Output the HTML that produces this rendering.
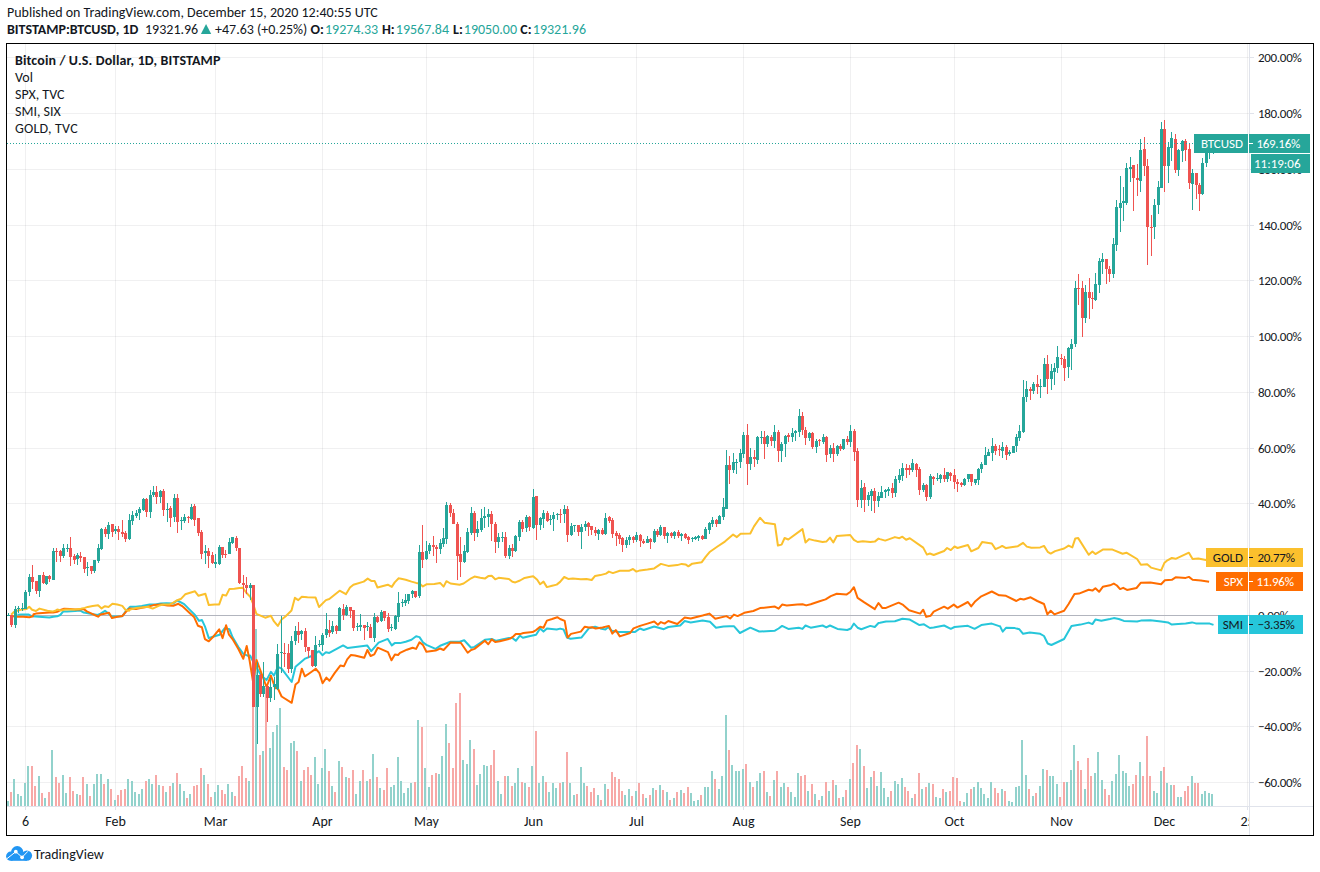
<!DOCTYPE html>
<html><head><meta charset="utf-8"><style>
html,body{margin:0;padding:0;background:#fff;}
body{width:1320px;height:872px;position:relative;overflow:hidden;font-family:"Carlito","Liberation Sans",sans-serif;color:#131722;}
.t{position:absolute;white-space:nowrap;font-size:14px;line-height:17px;}
.b{font-weight:bold;}
.g{color:#26a69a;}
svg{position:absolute;left:0;top:0;}
#frame{position:absolute;left:6px;top:43px;width:1308px;height:793px;box-sizing:border-box;border:1px solid #000;}
.pl{position:absolute;left:1258px;font-size:13px;letter-spacing:-0.3px;line-height:17px;white-space:nowrap;color:#131722;}
.tk{position:absolute;left:1249px;width:5px;height:1px;background:#e0e3eb;}
.tl{position:absolute;top:813px;font-size:14px;line-height:17px;white-space:nowrap;transform:translateX(-50%);}
.tt{position:absolute;top:806px;width:1px;height:4px;background:#e0e3eb;}
#pax{position:absolute;left:1249px;top:44px;width:1px;height:791px;background:#e0e3eb;}
#tax{position:absolute;left:7px;top:806px;width:1306px;height:1px;background:#e0e3eb;}
.lab{position:absolute;font-size:13px;letter-spacing:0;line-height:17px;white-space:nowrap;}
.lab i{position:absolute;left:0;width:4px;height:1px;}
#tclip{position:absolute;left:7px;top:807px;width:1242px;height:28px;overflow:hidden;}
</style></head><body>
<div class="t" style="left:7px;top:4px;">Published on TradingView.com, December 15, 2020 12:40:55 UTC</div>
<div class="t b" style="left:7px;top:21px;">BITSTAMP:BTCUSD, 1D</div>
<div class="t" style="left:145px;top:21px;">19321.96</div>
<svg style="position:absolute;left:200px;top:23px;" width="13" height="12" viewBox="200 23 13 12"><polygon points="200.9,34 206.05,24 211.2,34" fill="#26a69a"/></svg>
<div class="t" style="left:215px;top:21px;">+47.63 (+0.25%)</div>
<div class="t b" style="left:310.5px;top:21px;">O:</div><div class="t g" style="left:325px;top:21px;">19274.33</div>
<div class="t b" style="left:382px;top:21px;">H:</div><div class="t g" style="left:395.8px;top:21px;">19567.84</div>
<div class="t b" style="left:453px;top:21px;">L:</div><div class="t g" style="left:463.8px;top:21px;">19050.00</div>
<div class="t b" style="left:520.3px;top:21px;">C:</div><div class="t g" style="left:532.8px;top:21px;">19321.96</div>
<svg width="1320" height="872" viewBox="0 0 1320 872" shape-rendering="crispEdges">
<line x1="25.5" y1="44" x2="25.5" y2="806" stroke="#2a2e39" stroke-opacity="0.07"/>
<line x1="115.5" y1="44" x2="115.5" y2="806" stroke="#2a2e39" stroke-opacity="0.07"/>
<line x1="215.5" y1="44" x2="215.5" y2="806" stroke="#2a2e39" stroke-opacity="0.07"/>
<line x1="322.5" y1="44" x2="322.5" y2="806" stroke="#2a2e39" stroke-opacity="0.07"/>
<line x1="426.5" y1="44" x2="426.5" y2="806" stroke="#2a2e39" stroke-opacity="0.07"/>
<line x1="533.5" y1="44" x2="533.5" y2="806" stroke="#2a2e39" stroke-opacity="0.07"/>
<line x1="636.5" y1="44" x2="636.5" y2="806" stroke="#2a2e39" stroke-opacity="0.07"/>
<line x1="743.5" y1="44" x2="743.5" y2="806" stroke="#2a2e39" stroke-opacity="0.07"/>
<line x1="850.5" y1="44" x2="850.5" y2="806" stroke="#2a2e39" stroke-opacity="0.07"/>
<line x1="954.5" y1="44" x2="954.5" y2="806" stroke="#2a2e39" stroke-opacity="0.07"/>
<line x1="1061.5" y1="44" x2="1061.5" y2="806" stroke="#2a2e39" stroke-opacity="0.07"/>
<line x1="1164.5" y1="44" x2="1164.5" y2="806" stroke="#2a2e39" stroke-opacity="0.07"/>
<line x1="1247.5" y1="44" x2="1247.5" y2="806" stroke="#2a2e39" stroke-opacity="0.07"/>
<line x1="7" y1="57.5" x2="1249" y2="57.5" stroke="#2a2e39" stroke-opacity="0.07"/>
<line x1="7" y1="113.5" x2="1249" y2="113.5" stroke="#2a2e39" stroke-opacity="0.07"/>
<line x1="7" y1="169.5" x2="1249" y2="169.5" stroke="#2a2e39" stroke-opacity="0.07"/>
<line x1="7" y1="225.5" x2="1249" y2="225.5" stroke="#2a2e39" stroke-opacity="0.07"/>
<line x1="7" y1="280.5" x2="1249" y2="280.5" stroke="#2a2e39" stroke-opacity="0.07"/>
<line x1="7" y1="336.5" x2="1249" y2="336.5" stroke="#2a2e39" stroke-opacity="0.07"/>
<line x1="7" y1="392.5" x2="1249" y2="392.5" stroke="#2a2e39" stroke-opacity="0.07"/>
<line x1="7" y1="448.5" x2="1249" y2="448.5" stroke="#2a2e39" stroke-opacity="0.07"/>
<line x1="7" y1="503.5" x2="1249" y2="503.5" stroke="#2a2e39" stroke-opacity="0.07"/>
<line x1="7" y1="559.5" x2="1249" y2="559.5" stroke="#2a2e39" stroke-opacity="0.07"/>
<line x1="7" y1="615.5" x2="1249" y2="615.5" stroke="#2a2e39" stroke-opacity="0.07"/>
<line x1="7" y1="671.5" x2="1249" y2="671.5" stroke="#2a2e39" stroke-opacity="0.07"/>
<line x1="7" y1="726.5" x2="1249" y2="726.5" stroke="#2a2e39" stroke-opacity="0.07"/>
<line x1="7" y1="782.5" x2="1249" y2="782.5" stroke="#2a2e39" stroke-opacity="0.07"/>
<path fill="#92d2cc" d="M7 801h2V806h-2zM13 779h2V806h-2zM17 794h2V806h-2zM20 796h2V806h-2zM24 783h2V806h-2zM27 766h2V806h-2zM38 776h2V806h-2zM44 798h2V806h-2zM51 750h2V806h-2zM62 775h2V806h-2zM65 793h2V806h-2zM76 794h2V806h-2zM86 784h2V806h-2zM93 784h2V806h-2zM96 774h2V806h-2zM100 774h2V806h-2zM107 779h2V806h-2zM114 800h2V806h-2zM127 779h2V806h-2zM131 781h2V806h-2zM134 792h2V806h-2zM138 794h2V806h-2zM141 789h2V806h-2zM148 779h2V806h-2zM151 784h2V806h-2zM158 785h2V806h-2zM165 792h2V806h-2zM172 783h2V806h-2zM179 784h2V806h-2zM183 791h2V806h-2zM189 794h2V806h-2zM203 775h2V806h-2zM214 792h2V806h-2zM217 785h2V806h-2zM227 784h2V806h-2zM231 792h2V806h-2zM248 781h2V806h-2zM255 629h2V806h-2zM262 751h2V806h-2zM269 748h2V806h-2zM272 732h2V806h-2zM276 725h2V806h-2zM279 708h2V806h-2zM290 743h2V806h-2zM293 741h2V806h-2zM300 781h2V806h-2zM314 757h2V806h-2zM317 784h2V806h-2zM321 768h2V806h-2zM324 749h2V806h-2zM331 786h2V806h-2zM338 761h2V806h-2zM345 777h2V806h-2zM355 794h2V806h-2zM359 781h2V806h-2zM366 781h2V806h-2zM372 754h2V806h-2zM379 788h2V806h-2zM390 787h2V806h-2zM393 785h2V806h-2zM397 757h2V806h-2zM400 781h2V806h-2zM403 793h2V806h-2zM407 788h2V806h-2zM410 783h2V806h-2zM417 720h2V806h-2zM424 768h2V806h-2zM428 787h2V806h-2zM438 774h2V806h-2zM441 756h2V806h-2zM445 724h2V806h-2zM462 760h2V806h-2zM466 764h2V806h-2zM469 740h2V806h-2zM476 785h2V806h-2zM479 774h2V806h-2zM483 765h2V806h-2zM486 766h2V806h-2zM497 781h2V806h-2zM500 794h2V806h-2zM507 776h2V806h-2zM514 783h2V806h-2zM517 768h2V806h-2zM524 783h2V806h-2zM531 766h2V806h-2zM538 783h2V806h-2zM542 776h2V806h-2zM548 792h2V806h-2zM552 783h2V806h-2zM555 788h2V806h-2zM562 782h2V806h-2zM569 783h2V806h-2zM573 795h2V806h-2zM580 767h2V806h-2zM583 783h2V806h-2zM597 795h2V806h-2zM604 784h2V806h-2zM624 795h2V806h-2zM628 789h2V806h-2zM635 791h2V806h-2zM645 798h2V806h-2zM652 788h2V806h-2zM659 785h2V806h-2zM666 792h2V806h-2zM673 798h2V806h-2zM680 790h2V806h-2zM690 793h2V806h-2zM693 801h2V806h-2zM697 800h2V806h-2zM704 787h2V806h-2zM707 787h2V806h-2zM711 771h2V806h-2zM718 789h2V806h-2zM721 776h2V806h-2zM725 715h2V806h-2zM731 765h2V806h-2zM735 771h2V806h-2zM738 771h2V806h-2zM742 769h2V806h-2zM749 782h2V806h-2zM756 781h2V806h-2zM759 773h2V806h-2zM766 792h2V806h-2zM773 780h2V806h-2zM780 787h2V806h-2zM783 783h2V806h-2zM790 792h2V806h-2zM794 797h2V806h-2zM797 773h2V806h-2zM807 791h2V806h-2zM814 794h2V806h-2zM821 796h2V806h-2zM828 791h2V806h-2zM835 785h2V806h-2zM842 797h2V806h-2zM849 779h2V806h-2zM859 749h2V806h-2zM866 788h2V806h-2zM870 777h2V806h-2zM876 786h2V806h-2zM880 772h2V806h-2zM883 788h2V806h-2zM887 797h2V806h-2zM894 781h2V806h-2zM897 784h2V806h-2zM901 778h2V806h-2zM911 798h2V806h-2zM921 789h2V806h-2zM928 783h2V806h-2zM935 797h2V806h-2zM939 798h2V806h-2zM945 792h2V806h-2zM963 802h2V806h-2zM966 793h2V806h-2zM973 787h2V806h-2zM977 782h2V806h-2zM980 788h2V806h-2zM983 794h2V806h-2zM987 798h2V806h-2zM990 782h2V806h-2zM1001 789h2V806h-2zM1008 801h2V806h-2zM1011 802h2V806h-2zM1015 787h2V806h-2zM1018 786h2V806h-2zM1021 740h2V806h-2zM1025 775h2V806h-2zM1032 796h2V806h-2zM1039 786h2V806h-2zM1042 769h2V806h-2zM1049 776h2V806h-2zM1052 776h2V806h-2zM1056 784h2V806h-2zM1066 782h2V806h-2zM1070 770h2V806h-2zM1073 745h2V806h-2zM1084 789h2V806h-2zM1094 773h2V806h-2zM1097 752h2V806h-2zM1101 780h2V806h-2zM1111 781h2V806h-2zM1115 774h2V806h-2zM1118 755h2V806h-2zM1122 771h2V806h-2zM1125 773h2V806h-2zM1128 786h2V806h-2zM1139 762h2V806h-2zM1153 791h2V806h-2zM1156 793h2V806h-2zM1160 771h2V806h-2zM1166 783h2V806h-2zM1170 785h2V806h-2zM1177 797h2V806h-2zM1180 797h2V806h-2zM1191 776h2V806h-2zM1201 794h2V806h-2zM1204 791h2V806h-2zM1208 793h2V806h-2zM1211 794h2V806h-2z"/>
<path fill="#f7a9a7" d="M10 792h2V806h-2zM31 766h2V806h-2zM34 786h2V806h-2zM41 793h2V806h-2zM48 792h2V806h-2zM55 777h2V806h-2zM58 783h2V806h-2zM69 777h2V806h-2zM72 791h2V806h-2zM79 795h2V806h-2zM82 777h2V806h-2zM89 796h2V806h-2zM103 784h2V806h-2zM110 789h2V806h-2zM117 795h2V806h-2zM120 790h2V806h-2zM124 789h2V806h-2zM145 781h2V806h-2zM155 775h2V806h-2zM162 786h2V806h-2zM169 786h2V806h-2zM176 773h2V806h-2zM186 798h2V806h-2zM193 786h2V806h-2zM196 785h2V806h-2zM200 768h2V806h-2zM207 784h2V806h-2zM210 797h2V806h-2zM221 790h2V806h-2zM224 794h2V806h-2zM234 796h2V806h-2zM238 776h2V806h-2zM241 766h2V806h-2zM245 778h2V806h-2zM252 655h2V806h-2zM259 755h2V806h-2zM265 688h2V806h-2zM283 767h2V806h-2zM286 770h2V806h-2zM296 751h2V806h-2zM303 770h2V806h-2zM307 767h2V806h-2zM310 775h2V806h-2zM328 771h2V806h-2zM334 792h2V806h-2zM341 767h2V806h-2zM348 778h2V806h-2zM352 770h2V806h-2zM362 770h2V806h-2zM369 779h2V806h-2zM376 777h2V806h-2zM383 790h2V806h-2zM386 768h2V806h-2zM414 782h2V806h-2zM421 727h2V806h-2zM431 775h2V806h-2zM435 773h2V806h-2zM448 743h2V806h-2zM452 768h2V806h-2zM455 703h2V806h-2zM459 693h2V806h-2zM473 749h2V806h-2zM490 765h2V806h-2zM493 750h2V806h-2zM504 776h2V806h-2zM511 786h2V806h-2zM521 782h2V806h-2zM528 787h2V806h-2zM535 731h2V806h-2zM545 782h2V806h-2zM559 783h2V806h-2zM566 752h2V806h-2zM576 794h2V806h-2zM586 786h2V806h-2zM590 792h2V806h-2zM593 788h2V806h-2zM600 800h2V806h-2zM607 789h2V806h-2zM611 772h2V806h-2zM614 777h2V806h-2zM618 779h2V806h-2zM621 791h2V806h-2zM631 796h2V806h-2zM638 783h2V806h-2zM642 794h2V806h-2zM649 795h2V806h-2zM655 790h2V806h-2zM662 790h2V806h-2zM669 800h2V806h-2zM676 792h2V806h-2zM683 793h2V806h-2zM687 787h2V806h-2zM700 795h2V806h-2zM714 779h2V806h-2zM728 750h2V806h-2zM745 764h2V806h-2zM752 787h2V806h-2zM763 771h2V806h-2zM769 796h2V806h-2zM776 771h2V806h-2zM787 787h2V806h-2zM800 776h2V806h-2zM804 775h2V806h-2zM811 784h2V806h-2zM818 800h2V806h-2zM825 782h2V806h-2zM832 780h2V806h-2zM838 798h2V806h-2zM845 790h2V806h-2zM852 763h2V806h-2zM856 745h2V806h-2zM863 766h2V806h-2zM873 771h2V806h-2zM890 791h2V806h-2zM904 787h2V806h-2zM907 791h2V806h-2zM914 794h2V806h-2zM918 773h2V806h-2zM925 787h2V806h-2zM932 784h2V806h-2zM942 789h2V806h-2zM949 791h2V806h-2zM952 777h2V806h-2zM956 778h2V806h-2zM959 801h2V806h-2zM970 789h2V806h-2zM994 788h2V806h-2zM997 793h2V806h-2zM1004 791h2V806h-2zM1028 789h2V806h-2zM1035 793h2V806h-2zM1046 770h2V806h-2zM1059 797h2V806h-2zM1063 782h2V806h-2zM1077 761h2V806h-2zM1080 770h2V806h-2zM1087 758h2V806h-2zM1090 776h2V806h-2zM1104 789h2V806h-2zM1108 795h2V806h-2zM1132 784h2V806h-2zM1135 775h2V806h-2zM1142 776h2V806h-2zM1146 736h2V806h-2zM1149 776h2V806h-2zM1163 767h2V806h-2zM1173 785h2V806h-2zM1184 791h2V806h-2zM1187 786h2V806h-2zM1194 783h2V806h-2zM1197 783h2V806h-2z"/>
<line x1="7" y1="615.5" x2="1249" y2="615.5" stroke="#b2b5be"/>
<path d="M17.4 614.7 L21.8 614.6 L28.4 614.4 L32.1 616.3 L49.3 617.5 L53.3 616.7 L57.2 616.3 L60.2 615.0 L63.1 611.6 L67.1 611.4 L75.0 611.1 L79.9 610.4 L83.8 612.6 L86.8 613.1 L91.7 614.1 L97.6 615.0 L100.6 613.6 L105.0 610.8 L108.5 613.6 L111.4 616.3 L116.3 616.5 L122.3 616.3 L126.2 610.6 L129.2 607.7 L130.0 606.8 L135.9 606.8 L141.8 606.1 L149.7 604.6 L155.6 604.6 L160.5 603.6 L166.5 603.2 L173.3 603.4 L177.3 600.5 L184.2 604.1 L189.1 609.1 L195.0 615.0 L199.0 620.9 L201.9 619.9 L204.9 626.3 L208.8 638.1 L212.8 636.7 L219.7 634.7 L224.6 628.3 L229.5 629.3 L232.5 637.1 L238.4 647.0 L243.3 653.9 L248.2 655.9 L250.1 655.5 L252.6 660.5 L257.7 669.4 L261.4 675.7 L266.5 680.1 L270.9 671.9 L274.0 675.7 L277.8 666.8 L281.6 668.7 L291.7 682.0 L295.5 666.8 L305.2 658.6 L311.0 656.3 L319.0 651.2 L322.4 655.2 L325.9 652.3 L329.3 652.9 L343.1 645.4 L347.7 648.1 L367.2 645.4 L371.2 651.2 L378.6 642.6 L387.8 638.9 L391.8 645.4 L394.7 643.1 L400.0 643.1 L405.7 641.7 L411.5 639.7 L416.1 636.3 L419.5 637.1 L422.9 642.3 L426.4 644.9 L435.6 648.9 L440.1 645.8 L450.5 641.7 L459.6 641.7 L464.2 640.3 L471.1 647.7 L474.5 646.9 L484.9 639.7 L491.7 638.9 L496.3 640.8 L508.9 638.0 L512.4 638.0 L515.8 640.8 L519.3 636.3 L520.0 635.8 L522.9 637.8 L529.2 636.2 L536.1 634.7 L540.1 628.4 L543.5 631.6 L546.9 628.4 L556.7 629.5 L560.1 628.6 L563.6 629.5 L567.0 637.6 L570.5 638.7 L581.4 637.6 L588.8 628.4 L595.1 626.7 L600.3 628.4 L605.4 629.5 L608.3 627.0 L611.7 630.7 L618.6 632.1 L630.1 632.1 L634.7 632.1 L640.0 628.5 L643.7 630.0 L654.2 626.5 L663.8 629.2 L668.3 627.0 L680.2 625.5 L684.7 621.0 L690.7 622.5 L702.6 620.6 L710.0 621.8 L716.0 627.7 L723.5 626.5 L729.4 626.2 L733.9 626.2 L739.9 633.0 L750.3 627.7 L759.2 631.5 L760.0 631.5 L774.9 630.7 L778.6 628.5 L782.1 625.9 L788.3 628.9 L798.7 627.7 L802.5 628.9 L805.5 625.5 L810.7 627.7 L822.6 625.5 L826.3 627.4 L830.0 625.5 L837.5 628.9 L847.2 630.0 L850.9 628.5 L853.9 623.6 L857.6 627.7 L861.3 629.2 L870.3 625.9 L874.8 627.0 L878.5 623.0 L880.0 622.8 L886.0 621.6 L894.9 621.3 L902.4 618.7 L909.8 619.6 L919.5 625.1 L924.0 624.3 L929.9 628.0 L933.7 627.6 L944.1 625.5 L950.8 628.8 L954.5 627.0 L967.9 625.8 L974.6 628.8 L981.3 625.1 L991.8 623.6 L999.2 626.1 L1000.0 626.3 L1002.7 631.6 L1006.0 627.8 L1014.9 628.1 L1019.4 629.3 L1023.1 633.8 L1029.8 632.6 L1040.2 633.8 L1044.0 636.0 L1047.7 643.5 L1051.4 645.0 L1064.1 639.0 L1071.5 626.0 L1080.5 624.6 L1088.7 622.6 L1092.4 624.1 L1095.4 619.6 L1101.3 620.7 L1110.0 619.0 L1113.8 618.1 L1118.8 619.0 L1123.9 620.9 L1137.1 621.5 L1140.9 620.6 L1150.4 620.2 L1161.1 621.5 L1168.0 622.4 L1171.8 624.6 L1178.1 624.0 L1185.7 623.6 L1192.0 622.4 L1195.8 623.4 L1209.7 623.6 L1213.5 624.9" fill="none" stroke="#26c6da" stroke-width="2" stroke-linejoin="round" shape-rendering="auto"/>
<path d="M11.2 616.1 L12.9 616.3 L17.4 616.8 L23.2 616.7 L29.4 617.2 L32.8 616.3 L33.5 614.3 L35.9 613.6 L49.3 612.4 L53.3 612.6 L57.2 611.8 L61.2 609.6 L64.1 608.8 L70.0 609.1 L75.0 609.4 L79.9 609.6 L83.8 609.1 L86.8 611.4 L91.7 613.6 L95.7 615.5 L98.1 616.7 L100.6 614.6 L104.5 613.8 L109.0 612.8 L111.9 618.0 L116.3 617.0 L122.3 616.0 L125.7 612.1 L129.2 608.6 L130.0 608.6 L135.9 609.1 L141.8 607.8 L147.7 606.8 L153.6 605.1 L161.5 604.6 L167.4 605.4 L173.3 605.8 L178.3 603.8 L182.2 606.1 L189.1 612.5 L194.0 616.9 L198.0 625.8 L201.9 627.3 L204.9 639.1 L208.8 641.3 L213.7 636.2 L219.2 629.3 L222.6 638.1 L226.1 625.3 L229.0 634.7 L232.5 639.1 L238.4 649.0 L243.3 658.8 L246.7 646.0 L249.6 660.5 L253.1 682.0 L256.6 660.0 L266.5 687.0 L270.9 675.7 L275.3 688.3 L277.8 688.3 L281.6 696.5 L291.7 702.8 L295.5 684.5 L298.6 682.0 L301.8 668.7 L304.9 676.3 L310.6 672.5 L315.7 668.7 L319.4 673.1 L322.6 683.2 L326.4 677.6 L329.5 680.7 L334.6 673.1 L340.3 665.6 L344.0 666.2 L347.2 659.3 L351.0 654.9 L355.0 655.5 L364.2 657.8 L367.4 650.0 L370.6 656.0 L374.3 654.4 L377.7 647.7 L388.0 652.1 L391.5 660.3 L394.9 654.4 L398.1 655.0 L400.0 652.9 L406.9 649.7 L412.6 647.7 L416.1 648.9 L419.5 642.3 L422.9 644.9 L426.4 651.7 L435.6 650.6 L440.1 648.5 L443.6 650.0 L450.5 642.6 L460.8 642.8 L467.7 652.7 L471.1 650.0 L474.5 648.9 L484.9 640.8 L488.3 644.3 L491.7 639.4 L495.2 642.0 L499.8 641.2 L510.1 638.6 L513.5 636.3 L515.8 634.0 L520.0 634.1 L523.4 633.0 L532.6 632.1 L536.1 630.1 L540.1 626.7 L543.5 627.8 L546.9 620.6 L552.1 619.0 L557.3 617.2 L560.1 619.0 L564.7 620.9 L567.6 637.6 L571.0 633.9 L580.8 631.6 L584.8 626.7 L588.8 627.5 L592.2 627.2 L595.7 628.6 L602.6 627.5 L608.9 625.9 L612.3 633.6 L615.8 630.1 L619.8 636.4 L630.1 633.0 L633.5 628.4 L640.0 625.9 L647.5 623.6 L654.2 621.5 L657.9 624.8 L660.9 622.1 L664.6 623.6 L668.3 621.0 L677.3 624.0 L684.7 617.6 L690.7 618.5 L702.6 615.5 L709.3 613.6 L715.3 618.8 L726.4 616.1 L730.2 618.5 L733.9 614.6 L737.6 616.1 L744.3 612.8 L753.3 611.0 L760.0 608.1 L774.9 606.6 L778.6 608.7 L782.1 604.6 L786.8 605.4 L797.3 604.6 L802.5 604.2 L806.2 605.4 L810.7 604.2 L819.6 601.2 L825.6 599.4 L830.8 596.1 L836.8 593.8 L846.4 594.6 L850.2 592.0 L853.9 587.2 L857.6 597.9 L864.3 602.4 L874.8 609.1 L878.5 603.1 L880.0 604.9 L882.2 607.9 L886.0 607.9 L898.6 602.7 L903.1 604.9 L909.1 610.2 L920.2 613.6 L923.2 609.7 L926.2 616.9 L930.7 615.7 L933.7 611.7 L944.1 606.7 L947.8 608.7 L953.8 604.6 L957.5 607.6 L967.9 602.0 L971.2 606.4 L975.4 601.2 L981.3 596.3 L991.8 591.5 L999.2 595.3 L1000.0 595.3 L1006.0 595.8 L1016.4 601.0 L1020.1 598.8 L1023.8 599.5 L1030.6 597.3 L1037.3 601.0 L1044.0 604.0 L1047.4 614.4 L1050.7 610.7 L1054.4 614.4 L1064.1 610.7 L1068.6 604.0 L1074.5 593.9 L1079.0 593.6 L1088.7 589.8 L1092.4 590.6 L1095.4 588.3 L1099.1 591.8 L1102.8 586.8 L1110.0 585.3 L1113.8 583.6 L1116.9 585.5 L1120.1 589.1 L1123.2 587.8 L1127.0 589.9 L1136.5 588.0 L1140.9 582.7 L1150.4 582.4 L1161.1 584.3 L1164.9 580.2 L1171.8 579.8 L1175.6 577.3 L1185.7 577.9 L1188.9 576.9 L1192.6 579.8 L1200.9 580.5 L1209.1 581.7" fill="none" stroke="#ff6d00" stroke-width="2" stroke-linejoin="round" shape-rendering="auto"/>
<path d="M11.2 614.8 L13.9 611.9 L18.0 610.5 L22.5 609.4 L26.6 608.9 L29.2 606.7 L32.1 609.8 L35.9 611.0 L39.5 608.6 L47.4 610.8 L52.3 611.6 L55.3 610.8 L57.2 609.6 L61.2 610.4 L65.1 609.6 L70.0 609.4 L75.0 609.6 L80.9 608.8 L84.8 607.9 L87.8 606.9 L92.7 605.9 L98.1 605.2 L101.6 608.4 L105.0 606.2 L108.5 606.9 L112.4 603.7 L117.3 604.5 L122.3 605.9 L125.7 610.1 L129.2 610.8 L130.0 609.6 L135.9 608.1 L141.8 607.4 L147.7 606.8 L152.7 608.6 L158.6 605.8 L163.5 604.4 L169.4 604.6 L173.3 602.7 L177.3 600.2 L181.2 598.7 L185.2 594.3 L190.1 592.8 L195.0 591.3 L198.5 595.8 L205.4 593.8 L208.8 605.1 L214.7 604.6 L219.2 604.4 L222.6 594.8 L226.1 595.6 L229.5 588.9 L234.4 588.7 L239.4 587.9 L242.8 587.7 L246.3 592.8 L250.2 596.7 L252.6 602.5 L256.4 613.9 L265.2 617.7 L270.9 615.8 L274.0 621.4 L277.8 625.9 L281.6 619.5 L285.7 616.2 L291.5 610.5 L294.9 597.8 L298.3 600.1 L301.8 596.7 L307.5 597.3 L315.6 597.6 L319.0 607.0 L325.9 600.1 L329.3 599.0 L339.6 590.7 L345.9 594.2 L350.0 587.5 L353.4 584.7 L363.7 581.6 L367.7 578.6 L371.2 580.9 L374.6 580.9 L377.5 587.5 L387.8 584.7 L391.8 586.9 L394.7 582.4 L398.7 578.3 L400.0 578.6 L405.7 579.7 L411.5 581.6 L416.1 582.9 L419.5 583.5 L422.9 586.4 L426.4 584.3 L434.4 583.9 L440.1 582.9 L443.6 586.6 L446.4 581.2 L450.5 583.5 L459.6 584.7 L463.6 583.5 L471.1 578.3 L474.5 576.6 L480.3 577.8 L484.9 578.6 L488.3 576.1 L491.7 575.8 L495.2 579.3 L498.6 577.8 L508.9 578.9 L512.4 581.8 L515.3 582.4 L520.0 580.5 L524.6 577.9 L529.2 577.0 L533.2 576.2 L537.2 579.7 L540.1 584.2 L543.5 581.6 L546.9 587.1 L552.1 585.7 L556.7 584.6 L560.1 581.9 L564.2 577.0 L568.2 578.9 L572.8 578.5 L580.8 579.3 L586.5 579.1 L591.7 580.0 L595.1 575.9 L600.3 575.1 L606.0 573.6 L608.9 571.6 L612.9 573.1 L619.8 570.8 L628.9 570.8 L633.0 569.0 L636.4 571.6 L640.0 570.4 L647.5 569.6 L654.2 568.4 L660.9 563.9 L668.3 565.9 L677.3 565.1 L681.7 563.9 L685.5 564.4 L688.4 566.3 L692.2 563.7 L701.8 562.2 L705.6 556.9 L710.0 551.7 L717.5 546.5 L724.9 541.6 L733.1 534.6 L736.9 537.1 L740.6 533.8 L750.3 533.5 L754.0 526.4 L760.0 517.7 L764.5 522.7 L774.9 524.2 L777.9 545.5 L781.6 544.6 L784.6 538.0 L788.3 539.5 L802.5 529.1 L805.5 542.5 L809.2 539.1 L815.1 540.6 L822.6 542.0 L826.3 541.6 L830.0 537.6 L833.3 542.5 L836.8 536.1 L843.5 535.6 L850.2 535.0 L853.9 539.8 L857.6 542.0 L862.8 541.3 L870.3 542.0 L874.8 541.6 L878.5 538.6 L880.0 539.1 L885.2 540.6 L894.9 537.1 L899.4 538.2 L902.4 536.7 L906.1 539.7 L909.8 538.2 L923.2 547.6 L926.9 554.6 L929.9 553.5 L933.7 555.0 L944.1 551.0 L947.1 548.0 L950.8 550.1 L954.5 546.5 L957.5 548.0 L967.9 545.0 L971.2 551.3 L978.4 548.0 L982.1 542.1 L991.8 543.5 L995.5 549.1 L1000.0 547.1 L1002.2 545.9 L1006.0 548.1 L1017.9 546.2 L1023.1 542.9 L1026.8 546.6 L1031.3 547.7 L1040.2 547.4 L1044.0 545.9 L1047.7 551.8 L1050.7 553.6 L1055.1 551.1 L1064.1 548.5 L1068.6 545.6 L1072.3 547.4 L1075.3 538.4 L1078.2 538.1 L1088.7 554.8 L1092.4 551.5 L1095.4 554.1 L1102.8 549.6 L1110.0 549.6 L1112.5 549.6 L1122.6 553.7 L1126.4 552.7 L1137.1 559.0 L1140.9 564.7 L1147.2 564.3 L1151.0 567.6 L1161.1 570.4 L1164.3 563.1 L1167.4 560.3 L1171.8 558.0 L1175.6 558.8 L1188.9 552.7 L1192.6 559.0 L1198.3 558.4 L1205.9 560.0 L1212.2 557.1" fill="none" stroke="#fbc02d" stroke-width="2" stroke-linejoin="round" shape-rendering="auto"/>
<path fill="#26a69a" d="M7 615h3V616h-3zM8 613h1V615h-1zM14 609h3V625h-3zM15 606h1V609h-1zM15 625h1V628h-1zM17 608h3V609h-3zM18 606h1V608h-1zM18 609h1V613h-1zM21 608h3V609h-3zM22 603h1V608h-1zM22 609h1V611h-1zM24 592h3V609h-3zM25 590h1V592h-1zM28 577h3V592h-3zM29 574h1V577h-1zM29 592h1V596h-1zM38 575h3V591h-3zM39 591h1V597h-1zM45 576h3V584h-3zM46 584h1V585h-1zM52 551h3V580h-3zM53 548h1V551h-1zM62 548h3V556h-3zM63 544h1V548h-1zM63 556h1V558h-1zM66 548h3V549h-3zM67 544h1V548h-1zM67 549h1V552h-1zM76 555h3V559h-3zM77 553h1V555h-1zM77 559h1V565h-1zM86 567h3V568h-3zM87 562h1V567h-1zM87 568h1V576h-1zM93 560h3V571h-3zM94 571h1V573h-1zM97 548h3V561h-3zM98 544h1V548h-1zM98 561h1V563h-1zM100 529h3V549h-3zM101 528h1V529h-1zM101 549h1V550h-1zM107 525h3V534h-3zM108 522h1V525h-1zM108 534h1V539h-1zM114 529h3V531h-3zM115 526h1V529h-1zM115 531h1V534h-1zM128 520h3V539h-3zM129 514h1V520h-1zM129 539h1V540h-1zM131 515h3V521h-3zM132 511h1V515h-1zM132 521h1V525h-1zM135 513h3V516h-3zM136 510h1V513h-1zM136 516h1V518h-1zM138 509h3V513h-3zM139 507h1V509h-1zM139 513h1V520h-1zM142 499h3V510h-3zM143 498h1V499h-1zM143 510h1V511h-1zM149 495h3V512h-3zM150 490h1V495h-1zM150 512h1V518h-1zM152 492h3V495h-3zM153 486h1V492h-1zM153 495h1V497h-1zM159 491h3V497h-3zM160 490h1V491h-1zM160 497h1V503h-1zM166 509h3V510h-3zM167 503h1V509h-1zM167 510h1V522h-1zM173 498h3V517h-3zM174 494h1V498h-1zM174 517h1V522h-1zM180 520h3V521h-3zM181 517h1V520h-1zM181 521h1V530h-1zM183 517h3V521h-3zM184 514h1V517h-1zM184 521h1V523h-1zM190 507h3V519h-3zM191 504h1V507h-1zM191 519h1V520h-1zM204 551h3V553h-3zM205 545h1V551h-1zM205 553h1V564h-1zM214 562h3V564h-3zM215 554h1V562h-1zM215 564h1V568h-1zM218 547h3V564h-3zM219 545h1V547h-1zM219 564h1V565h-1zM228 542h3V554h-3zM229 538h1V542h-1zM231 537h3V543h-3zM232 543h1V544h-1zM249 585h3V588h-3zM250 583h1V585h-1zM250 588h1V600h-1zM256 675h3V707h-3zM257 662h1V675h-1zM257 707h1V744h-1zM262 686h3V694h-3zM263 662h1V686h-1zM263 694h1V697h-1zM269 687h3V698h-3zM270 678h1V687h-1zM270 698h1V702h-1zM273 684h3V687h-3zM274 677h1V684h-1zM274 687h1V700h-1zM276 654h3V689h-3zM277 644h1V654h-1zM277 689h1V690h-1zM280 652h3V653h-3zM281 616h1V652h-1zM281 653h1V673h-1zM290 641h3V669h-3zM291 636h1V641h-1zM291 669h1V673h-1zM294 631h3V641h-3zM295 626h1V631h-1zM295 641h1V645h-1zM300 631h3V634h-3zM301 630h1V631h-1zM301 634h1V640h-1zM314 645h3V666h-3zM315 636h1V645h-1zM315 666h1V667h-1zM318 644h3V645h-3zM319 640h1V644h-1zM319 645h1V647h-1zM321 635h3V645h-3zM322 633h1V635h-1zM322 645h1V651h-1zM325 629h3V635h-3zM326 613h1V629h-1zM326 635h1V638h-1zM331 626h3V632h-3zM332 621h1V626h-1zM332 632h1V634h-1zM338 608h3V631h-3zM339 607h1V608h-1zM345 607h3V615h-3zM346 605h1V607h-1zM346 615h1V616h-1zM356 626h3V627h-3zM357 623h1V626h-1zM357 627h1V631h-1zM359 625h3V627h-3zM360 614h1V625h-1zM360 627h1V631h-1zM366 626h3V627h-3zM367 622h1V626h-1zM367 627h1V631h-1zM373 617h3V638h-3zM374 613h1V617h-1zM374 638h1V642h-1zM380 612h3V621h-3zM381 610h1V612h-1zM381 621h1V622h-1zM390 627h3V628h-3zM391 624h1V627h-1zM391 628h1V631h-1zM394 616h3V629h-3zM395 615h1V616h-1zM395 629h1V630h-1zM397 603h3V617h-3zM398 592h1V603h-1zM398 617h1V622h-1zM401 602h3V603h-3zM402 599h1V602h-1zM402 603h1V607h-1zM404 600h3V603h-3zM405 594h1V600h-1zM405 603h1V606h-1zM407 594h3V601h-3zM408 601h1V604h-1zM411 591h3V594h-3zM412 590h1V591h-1zM412 594h1V598h-1zM418 552h3V596h-3zM419 545h1V552h-1zM419 596h1V598h-1zM425 551h3V559h-3zM426 541h1V551h-1zM426 559h1V560h-1zM428 545h3V551h-3zM429 543h1V545h-1zM429 551h1V554h-1zM439 543h3V549h-3zM440 539h1V543h-1zM440 549h1V554h-1zM442 538h3V544h-3zM443 528h1V538h-1zM443 544h1V547h-1zM445 505h3V539h-3zM446 502h1V505h-1zM446 539h1V544h-1zM463 551h3V562h-3zM464 545h1V551h-1zM464 562h1V563h-1zM466 532h3V552h-3zM467 528h1V532h-1zM467 552h1V553h-1zM470 513h3V533h-3zM471 507h1V513h-1zM471 533h1V535h-1zM476 529h3V533h-3zM477 521h1V529h-1zM477 533h1V537h-1zM480 518h3V530h-3zM481 509h1V518h-1zM481 530h1V532h-1zM483 516h3V518h-3zM484 507h1V516h-1zM484 518h1V528h-1zM487 514h3V517h-3zM488 509h1V514h-1zM488 517h1V527h-1zM497 537h3V542h-3zM498 533h1V537h-1zM498 542h1V548h-1zM501 537h3V538h-3zM502 532h1V537h-1zM502 538h1V542h-1zM508 548h3V556h-3zM509 545h1V548h-1zM509 556h1V559h-1zM514 536h3V551h-3zM515 535h1V536h-1zM515 551h1V552h-1zM518 522h3V537h-3zM519 520h1V522h-1zM519 537h1V541h-1zM525 517h3V528h-3zM526 515h1V517h-1zM526 528h1V532h-1zM532 497h3V528h-3zM533 489h1V497h-1zM533 528h1V529h-1zM539 518h3V525h-3zM540 517h1V518h-1zM540 525h1V530h-1zM542 513h3V519h-3zM543 510h1V513h-1zM543 519h1V528h-1zM549 519h3V520h-3zM550 515h1V519h-1zM550 520h1V525h-1zM552 515h3V519h-3zM553 512h1V515h-1zM553 519h1V531h-1zM556 514h3V515h-3zM557 513h1V514h-1zM557 515h1V520h-1zM563 509h3V514h-3zM564 505h1V509h-1zM564 514h1V523h-1zM570 526h3V535h-3zM571 523h1V526h-1zM571 535h1V536h-1zM573 525h3V526h-3zM574 526h1V532h-1zM580 527h3V532h-3zM581 524h1V527h-1zM581 532h1V549h-1zM584 524h3V527h-3zM585 521h1V524h-1zM585 527h1V531h-1zM597 530h3V534h-3zM598 529h1V530h-1zM598 534h1V540h-1zM604 518h3V534h-3zM605 513h1V518h-1zM605 534h1V535h-1zM625 540h3V545h-3zM626 537h1V540h-1zM626 545h1V548h-1zM628 537h3V540h-3zM629 535h1V537h-1zM629 540h1V545h-1zM635 535h3V540h-3zM636 532h1V535h-1zM636 540h1V542h-1zM646 539h3V543h-3zM647 536h1V539h-1zM653 531h3V542h-3zM654 529h1V531h-1zM654 542h1V543h-1zM659 527h3V535h-3zM660 525h1V527h-1zM660 535h1V536h-1zM666 533h3V536h-3zM667 532h1V533h-1zM667 536h1V543h-1zM673 532h3V536h-3zM674 531h1V532h-1zM674 536h1V539h-1zM680 534h3V536h-3zM681 533h1V534h-1zM681 536h1V541h-1zM691 538h3V539h-3zM692 537h1V538h-1zM692 539h1V542h-1zM694 537h3V539h-3zM695 536h1V537h-1zM695 539h1V540h-1zM697 536h3V538h-3zM698 535h1V536h-1zM698 538h1V541h-1zM704 529h3V539h-3zM705 527h1V529h-1zM708 523h3V530h-3zM709 522h1V523h-1zM709 530h1V534h-1zM711 520h3V524h-3zM712 517h1V520h-1zM712 524h1V527h-1zM718 516h3V524h-3zM719 515h1V516h-1zM722 507h3V517h-3zM723 498h1V507h-1zM723 517h1V520h-1zM725 465h3V509h-3zM726 450h1V465h-1zM732 462h3V470h-3zM733 453h1V462h-1zM733 470h1V473h-1zM735 462h3V463h-3zM736 459h1V462h-1zM736 463h1V474h-1zM739 453h3V462h-3zM740 449h1V453h-1zM740 462h1V468h-1zM742 435h3V454h-3zM743 432h1V435h-1zM743 454h1V458h-1zM749 457h3V464h-3zM750 448h1V457h-1zM750 464h1V470h-1zM756 437h3V460h-3zM757 436h1V437h-1zM757 460h1V464h-1zM760 437h3V438h-3zM761 431h1V437h-1zM761 438h1V444h-1zM766 436h3V444h-3zM767 435h1V436h-1zM767 444h1V447h-1zM773 432h3V441h-3zM774 425h1V432h-1zM774 441h1V448h-1zM780 444h3V451h-3zM781 442h1V444h-1zM781 451h1V462h-1zM784 436h3V444h-3zM785 435h1V436h-1zM785 444h1V457h-1zM791 433h3V437h-3zM792 428h1V433h-1zM792 437h1V442h-1zM794 431h3V433h-3zM795 430h1V431h-1zM795 433h1V441h-1zM798 416h3V432h-3zM799 409h1V416h-1zM799 432h1V437h-1zM808 433h3V438h-3zM809 432h1V433h-1zM809 438h1V441h-1zM815 441h3V447h-3zM816 439h1V441h-1zM816 447h1V453h-1zM822 437h3V442h-3zM823 434h1V437h-1zM823 442h1V444h-1zM829 448h3V454h-3zM830 445h1V448h-1zM830 454h1V458h-1zM836 446h3V454h-3zM837 445h1V446h-1zM837 454h1V456h-1zM842 439h3V449h-3zM843 449h1V450h-1zM849 431h3V442h-3zM850 425h1V431h-1zM850 442h1V447h-1zM860 488h3V500h-3zM861 480h1V488h-1zM861 500h1V508h-1zM867 495h3V500h-3zM868 492h1V495h-1zM868 500h1V506h-1zM870 491h3V496h-3zM871 489h1V491h-1zM871 496h1V511h-1zM877 496h3V501h-3zM878 492h1V496h-1zM878 501h1V507h-1zM880 492h3V498h-3zM881 486h1V492h-1zM884 490h3V492h-3zM885 489h1V490h-1zM885 492h1V498h-1zM887 489h3V491h-3zM888 487h1V489h-1zM888 491h1V496h-1zM894 479h3V493h-3zM895 476h1V479h-1zM895 493h1V497h-1zM898 475h3V480h-3zM899 469h1V475h-1zM899 480h1V483h-1zM901 468h3V476h-3zM902 463h1V468h-1zM902 476h1V481h-1zM911 463h3V470h-3zM912 459h1V463h-1zM912 470h1V472h-1zM922 485h3V490h-3zM923 483h1V485h-1zM923 490h1V492h-1zM929 476h3V497h-3zM930 474h1V476h-1zM930 497h1V499h-1zM936 478h3V479h-3zM937 473h1V478h-1zM937 479h1V481h-1zM939 475h3V479h-3zM940 474h1V475h-1zM940 479h1V483h-1zM946 472h3V479h-3zM947 479h1V482h-1zM963 479h3V485h-3zM964 478h1V479h-1zM964 485h1V486h-1zM967 474h3V479h-3zM968 479h1V482h-1zM974 479h3V483h-3zM975 483h1V485h-1zM977 469h3V480h-3zM978 468h1V469h-1zM978 480h1V485h-1zM980 464h3V469h-3zM981 462h1V464h-1zM981 469h1V473h-1zM984 455h3V465h-3zM985 447h1V455h-1zM987 452h3V456h-3zM988 449h1V452h-1zM991 446h3V453h-3zM992 438h1V446h-1zM992 453h1V461h-1zM1001 447h3V451h-3zM1002 442h1V447h-1zM1002 451h1V458h-1zM1008 452h3V454h-3zM1009 450h1V452h-1zM1009 454h1V456h-1zM1012 446h3V453h-3zM1015 437h3V446h-3zM1016 434h1V437h-1zM1016 446h1V452h-1zM1018 431h3V438h-3zM1019 425h1V431h-1zM1019 438h1V441h-1zM1022 397h3V432h-3zM1023 380h1V397h-1zM1023 432h1V433h-1zM1025 389h3V397h-3zM1026 381h1V389h-1zM1026 397h1V402h-1zM1032 384h3V391h-3zM1033 382h1V384h-1zM1033 391h1V394h-1zM1039 386h3V387h-3zM1040 379h1V386h-1zM1040 387h1V398h-1zM1043 364h3V387h-3zM1044 358h1V364h-1zM1050 371h3V379h-3zM1051 364h1V371h-1zM1051 379h1V390h-1zM1053 368h3V372h-3zM1054 363h1V368h-1zM1054 372h1V385h-1zM1056 357h3V368h-3zM1057 346h1V357h-1zM1057 368h1V373h-1zM1067 348h3V367h-3zM1068 347h1V348h-1zM1068 367h1V378h-1zM1070 344h3V349h-3zM1071 339h1V344h-1zM1071 349h1V370h-1zM1074 288h3V344h-3zM1075 281h1V288h-1zM1075 344h1V347h-1zM1084 292h3V318h-3zM1085 285h1V292h-1zM1085 318h1V323h-1zM1094 284h3V300h-3zM1095 273h1V284h-1zM1095 300h1V301h-1zM1098 261h3V285h-3zM1099 258h1V261h-1zM1099 285h1V293h-1zM1101 259h3V262h-3zM1102 253h1V259h-1zM1102 262h1V274h-1zM1112 244h3V274h-3zM1113 238h1V244h-1zM1113 274h1V278h-1zM1115 207h3V245h-3zM1116 200h1V207h-1zM1116 245h1V251h-1zM1119 203h3V208h-3zM1120 176h1V203h-1zM1120 208h1V232h-1zM1122 201h3V203h-3zM1123 187h1V201h-1zM1123 203h1V221h-1zM1125 168h3V203h-3zM1126 163h1V168h-1zM1126 203h1V205h-1zM1129 167h3V169h-3zM1130 157h1V167h-1zM1130 169h1V182h-1zM1139 150h3V181h-3zM1140 139h1V150h-1zM1140 181h1V192h-1zM1153 205h3V227h-3zM1154 199h1V205h-1zM1154 227h1V239h-1zM1157 187h3V205h-3zM1158 181h1V187h-1zM1158 205h1V214h-1zM1160 129h3V188h-3zM1161 122h1V129h-1zM1167 147h3V166h-3zM1168 142h1V147h-1zM1168 166h1V183h-1zM1170 138h3V148h-3zM1171 132h1V138h-1zM1171 148h1V161h-1zM1177 150h3V170h-3zM1178 149h1V150h-1zM1178 170h1V176h-1zM1181 141h3V151h-3zM1182 140h1V141h-1zM1182 151h1V162h-1zM1191 173h3V184h-3zM1192 169h1V173h-1zM1192 184h1V210h-1zM1201 163h3V194h-3zM1202 158h1V163h-1zM1202 194h1V195h-1zM1205 149h3V163h-3zM1206 140h1V149h-1zM1206 163h1V167h-1zM1208 145h3V149h-3zM1209 142h1V145h-1zM1209 149h1V159h-1zM1212 143h3V145h-3zM1213 135h1V143h-1zM1213 145h1V154h-1z"/>
<path fill="#ef5350" d="M10 615h3V625h-3zM11 625h1V627h-1zM31 577h3V582h-3zM32 565h1V577h-1zM32 582h1V589h-1zM35 581h3V591h-3zM36 591h1V594h-1zM42 575h3V583h-3zM43 572h1V575h-1zM43 583h1V584h-1zM48 576h3V579h-3zM49 575h1V576h-1zM49 579h1V582h-1zM55 551h3V552h-3zM56 548h1V551h-1zM56 552h1V562h-1zM59 551h3V556h-3zM60 550h1V551h-1zM60 556h1V562h-1zM69 548h3V557h-3zM70 537h1V548h-1zM70 557h1V566h-1zM73 556h3V560h-3zM74 554h1V556h-1zM74 560h1V564h-1zM79 556h3V558h-3zM80 552h1V556h-1zM80 558h1V562h-1zM83 557h3V569h-3zM84 569h1V573h-1zM90 566h3V571h-3zM91 571h1V574h-1zM104 529h3V534h-3zM105 527h1V529h-1zM105 534h1V537h-1zM111 524h3V532h-3zM112 532h1V537h-1zM117 529h3V532h-3zM118 526h1V529h-1zM118 532h1V540h-1zM121 532h3V534h-3zM122 520h1V532h-1zM122 534h1V537h-1zM124 533h3V539h-3zM125 531h1V533h-1zM125 539h1V542h-1zM145 499h3V512h-3zM146 498h1V499h-1zM146 512h1V517h-1zM155 492h3V497h-3zM156 486h1V492h-1zM156 497h1V504h-1zM162 491h3V510h-3zM163 489h1V491h-1zM163 510h1V516h-1zM169 508h3V518h-3zM170 506h1V508h-1zM170 518h1V527h-1zM176 498h3V522h-3zM177 494h1V498h-1zM177 522h1V533h-1zM187 517h3V518h-3zM188 516h1V517h-1zM188 518h1V523h-1zM193 506h3V520h-3zM194 504h1V506h-1zM194 520h1V526h-1zM197 518h3V533h-3zM198 533h1V536h-1zM200 532h3V554h-3zM201 530h1V532h-1zM201 554h1V559h-1zM207 551h3V556h-3zM208 548h1V551h-1zM208 556h1V568h-1zM211 555h3V563h-3zM212 552h1V555h-1zM212 563h1V564h-1zM221 547h3V555h-3zM222 555h1V558h-1zM224 554h3V555h-3zM225 550h1V554h-1zM225 555h1V558h-1zM235 538h3V548h-3zM236 536h1V538h-1zM236 548h1V551h-1zM238 548h3V583h-3zM239 583h1V584h-1zM242 583h3V585h-3zM243 575h1V583h-1zM243 585h1V598h-1zM245 585h3V588h-3zM246 577h1V585h-1zM246 588h1V594h-1zM252 585h3V707h-3zM259 675h3V694h-3zM260 674h1V675h-1zM260 694h1V697h-1zM266 686h3V698h-3zM267 698h1V722h-1zM283 653h3V654h-3zM284 643h1V653h-1zM284 654h1V667h-1zM287 653h3V669h-3zM288 644h1V653h-1zM288 669h1V673h-1zM297 631h3V635h-3zM298 622h1V631h-1zM298 635h1V643h-1zM304 631h3V647h-3zM305 628h1V631h-1zM305 647h1V652h-1zM307 647h3V651h-3zM308 651h1V658h-1zM311 650h3V666h-3zM312 666h1V667h-1zM328 630h3V633h-3zM329 620h1V630h-1zM329 633h1V637h-1zM335 626h3V631h-3zM336 625h1V626h-1zM336 631h1V634h-1zM342 609h3V615h-3zM343 604h1V609h-1zM343 615h1V620h-1zM349 607h3V611h-3zM350 611h1V618h-1zM352 610h3V628h-3zM353 628h1V631h-1zM363 625h3V628h-3zM364 628h1V640h-1zM369 627h3V638h-3zM370 624h1V627h-1zM376 617h3V622h-3zM377 616h1V617h-1zM377 622h1V623h-1zM383 611h3V618h-3zM384 618h1V621h-1zM387 617h3V629h-3zM388 613h1V617h-1zM388 629h1V632h-1zM414 591h3V597h-3zM415 597h1V598h-1zM421 552h3V560h-3zM422 525h1V552h-1zM422 560h1V568h-1zM432 545h3V547h-3zM433 536h1V545h-1zM433 547h1V556h-1zM435 547h3V549h-3zM436 545h1V547h-1zM436 549h1V563h-1zM449 505h3V513h-3zM450 503h1V505h-1zM450 513h1V517h-1zM452 513h3V524h-3zM453 509h1V513h-1zM456 524h3V556h-3zM457 522h1V524h-1zM457 556h1V580h-1zM459 554h3V562h-3zM460 537h1V554h-1zM460 562h1V577h-1zM473 513h3V533h-3zM474 511h1V513h-1zM474 533h1V541h-1zM490 514h3V524h-3zM491 511h1V514h-1zM491 524h1V541h-1zM494 524h3V542h-3zM495 522h1V524h-1zM495 542h1V553h-1zM504 537h3V556h-3zM505 532h1V537h-1zM505 556h1V558h-1zM511 548h3V551h-3zM512 544h1V548h-1zM512 551h1V557h-1zM521 522h3V529h-3zM522 520h1V522h-1zM522 529h1V532h-1zM528 517h3V527h-3zM529 516h1V517h-1zM529 527h1V531h-1zM535 496h3V525h-3zM536 525h1V540h-1zM546 513h3V521h-3zM547 511h1V513h-1zM547 521h1V522h-1zM559 514h3V515h-3zM560 509h1V514h-1zM560 515h1V523h-1zM566 509h3V535h-3zM567 506h1V509h-1zM567 535h1V542h-1zM577 525h3V532h-3zM578 532h1V536h-1zM587 523h3V527h-3zM588 522h1V523h-1zM588 527h1V536h-1zM590 526h3V530h-3zM591 530h1V535h-1zM594 530h3V533h-3zM595 527h1V530h-1zM595 533h1V536h-1zM601 530h3V534h-3zM602 528h1V530h-1zM602 534h1V535h-1zM608 517h3V521h-3zM609 516h1V517h-1zM609 521h1V523h-1zM611 520h3V534h-3zM612 518h1V520h-1zM612 534h1V538h-1zM615 533h3V536h-3zM616 531h1V533h-1zM616 536h1V546h-1zM618 535h3V539h-3zM619 533h1V535h-1zM619 539h1V544h-1zM621 538h3V545h-3zM622 537h1V538h-1zM622 545h1V552h-1zM632 537h3V540h-3zM633 536h1V537h-1zM633 540h1V543h-1zM639 535h3V541h-3zM640 534h1V535h-1zM640 541h1V547h-1zM642 541h3V543h-3zM643 539h1V541h-1zM643 543h1V544h-1zM649 539h3V542h-3zM650 538h1V539h-1zM650 542h1V549h-1zM656 531h3V535h-3zM657 529h1V531h-1zM657 535h1V537h-1zM663 527h3V536h-3zM664 536h1V539h-1zM670 533h3V536h-3zM671 532h1V533h-1zM671 536h1V538h-1zM677 532h3V536h-3zM678 530h1V532h-1zM678 536h1V538h-1zM684 534h3V538h-3zM685 533h1V534h-1zM685 538h1V539h-1zM687 537h3V540h-3zM688 536h1V537h-1zM688 540h1V544h-1zM701 536h3V539h-3zM702 535h1V536h-1zM702 539h1V540h-1zM715 520h3V524h-3zM716 519h1V520h-1zM716 524h1V527h-1zM728 465h3V470h-3zM729 456h1V465h-1zM729 470h1V484h-1zM746 435h3V464h-3zM747 424h1V435h-1zM747 464h1V485h-1zM753 457h3V459h-3zM754 450h1V457h-1zM754 459h1V467h-1zM763 437h3V444h-3zM764 431h1V437h-1zM764 444h1V459h-1zM770 437h3V441h-3zM771 435h1V437h-1zM771 441h1V446h-1zM777 432h3V451h-3zM778 430h1V432h-1zM778 451h1V462h-1zM787 435h3V437h-3zM788 433h1V435h-1zM788 437h1V442h-1zM801 416h3V430h-3zM802 412h1V416h-1zM802 430h1V435h-1zM804 430h3V438h-3zM805 427h1V430h-1zM805 438h1V445h-1zM811 433h3V447h-3zM812 432h1V433h-1zM812 447h1V449h-1zM818 440h3V441h-3zM819 439h1V440h-1zM819 441h1V446h-1zM825 437h3V455h-3zM826 436h1V437h-1zM826 455h1V462h-1zM832 448h3V454h-3zM833 443h1V448h-1zM833 454h1V462h-1zM839 446h3V449h-3zM840 444h1V446h-1zM840 449h1V451h-1zM846 439h3V442h-3zM847 436h1V439h-1zM847 442h1V445h-1zM853 431h3V452h-3zM854 429h1V431h-1zM854 452h1V461h-1zM856 451h3V500h-3zM857 448h1V451h-1zM857 500h1V507h-1zM863 487h3V500h-3zM864 483h1V487h-1zM864 500h1V512h-1zM873 491h3V501h-3zM874 488h1V491h-1zM874 501h1V513h-1zM891 488h3V493h-3zM892 483h1V488h-1zM892 493h1V498h-1zM905 468h3V470h-3zM906 464h1V468h-1zM906 470h1V478h-1zM908 468h3V470h-3zM909 465h1V468h-1zM909 470h1V475h-1zM915 464h3V470h-3zM916 463h1V464h-1zM916 470h1V477h-1zM918 469h3V490h-3zM919 467h1V469h-1zM919 490h1V495h-1zM925 485h3V497h-3zM926 484h1V485h-1zM926 497h1V501h-1zM932 477h3V479h-3zM933 476h1V477h-1zM933 479h1V485h-1zM943 475h3V479h-3zM944 468h1V475h-1zM944 479h1V482h-1zM949 473h3V476h-3zM950 472h1V473h-1zM950 476h1V481h-1zM953 475h3V482h-3zM954 469h1V475h-1zM954 482h1V489h-1zM956 482h3V484h-3zM957 479h1V482h-1zM957 484h1V492h-1zM960 483h3V485h-3zM961 482h1V483h-1zM961 485h1V487h-1zM970 474h3V482h-3zM971 482h1V486h-1zM994 446h3V451h-3zM995 444h1V446h-1zM995 451h1V455h-1zM998 449h3V450h-3zM999 445h1V449h-1zM999 450h1V456h-1zM1005 447h3V455h-3zM1006 445h1V447h-1zM1006 455h1V460h-1zM1029 389h3V391h-3zM1030 387h1V389h-1zM1030 391h1V400h-1zM1036 384h3V387h-3zM1037 375h1V384h-1zM1037 387h1V394h-1zM1046 364h3V379h-3zM1047 355h1V364h-1zM1047 379h1V394h-1zM1060 358h3V359h-3zM1061 354h1V358h-1zM1061 359h1V365h-1zM1063 359h3V368h-3zM1064 356h1V359h-1zM1064 368h1V381h-1zM1077 288h3V289h-3zM1078 274h1V288h-1zM1078 289h1V305h-1zM1081 288h3V318h-3zM1082 281h1V288h-1zM1082 318h1V337h-1zM1088 292h3V298h-3zM1089 278h1V292h-1zM1089 298h1V319h-1zM1091 298h3V299h-3zM1092 292h1V298h-1zM1092 299h1V309h-1zM1105 259h3V269h-3zM1106 269h1V284h-1zM1108 269h3V274h-3zM1109 266h1V269h-1zM1109 274h1V282h-1zM1132 165h3V178h-3zM1133 178h1V211h-1zM1136 178h3V180h-3zM1137 164h1V178h-1zM1137 180h1V196h-1zM1143 149h3V166h-3zM1144 137h1V149h-1zM1144 166h1V176h-1zM1146 166h3V227h-3zM1147 159h1V166h-1zM1147 227h1V265h-1zM1150 227h3V228h-3zM1151 215h1V227h-1zM1151 228h1V256h-1zM1163 129h3V166h-3zM1164 120h1V129h-1zM1164 166h1V192h-1zM1174 139h3V170h-3zM1175 134h1V139h-1zM1175 170h1V173h-1zM1184 141h3V150h-3zM1185 139h1V141h-1zM1185 150h1V161h-1zM1188 149h3V183h-3zM1189 143h1V149h-1zM1189 183h1V189h-1zM1195 173h3V185h-3zM1196 185h1V199h-1zM1198 185h3V194h-3zM1199 183h1V185h-1zM1199 194h1V211h-1z"/>
<line x1="7" y1="143.5" x2="1249" y2="143.5" stroke="#26a69a" stroke-dasharray="1 2"/>
</svg>
<div id="pax"></div><div id="tax"></div>
<div class="pl" style="top:49px;">200.00%</div><div class="tk" style="top:57px;"></div><div class="pl" style="top:105px;">180.00%</div><div class="tk" style="top:113px;"></div><div class="pl" style="top:161px;">160.00%</div><div class="tk" style="top:169px;"></div><div class="pl" style="top:217px;">140.00%</div><div class="tk" style="top:225px;"></div><div class="pl" style="top:272px;">120.00%</div><div class="tk" style="top:280px;"></div><div class="pl" style="top:328px;">100.00%</div><div class="tk" style="top:336px;"></div><div class="pl" style="top:384px;">80.00%</div><div class="tk" style="top:392px;"></div><div class="pl" style="top:440px;">60.00%</div><div class="tk" style="top:448px;"></div><div class="pl" style="top:495px;">40.00%</div><div class="tk" style="top:503px;"></div><div class="pl" style="top:551px;">20.00%</div><div class="tk" style="top:559px;"></div><div class="pl" style="top:607px;">0.00%</div><div class="tk" style="top:615px;"></div><div class="pl" style="top:663px;">−20.00%</div><div class="tk" style="top:671px;"></div><div class="pl" style="top:718px;">−40.00%</div><div class="tk" style="top:726px;"></div><div class="pl" style="top:774px;">−60.00%</div><div class="tk" style="top:782px;"></div>
<div id="tclip"><div style="position:absolute;left:-7px;top:-807px;"><div class="tl" style="left:25.5px;">6</div><div class="tt" style="left:25px;"></div><div class="tl" style="left:115.5px;">Feb</div><div class="tt" style="left:115px;"></div><div class="tl" style="left:215.5px;">Mar</div><div class="tt" style="left:215px;"></div><div class="tl" style="left:322.5px;">Apr</div><div class="tt" style="left:322px;"></div><div class="tl" style="left:426.5px;">May</div><div class="tt" style="left:426px;"></div><div class="tl" style="left:533.5px;">Jun</div><div class="tt" style="left:533px;"></div><div class="tl" style="left:636.5px;">Jul</div><div class="tt" style="left:636px;"></div><div class="tl" style="left:743.5px;">Aug</div><div class="tt" style="left:743px;"></div><div class="tl" style="left:850.5px;">Sep</div><div class="tt" style="left:850px;"></div><div class="tl" style="left:954.5px;">Oct</div><div class="tt" style="left:954px;"></div><div class="tl" style="left:1061.5px;">Nov</div><div class="tt" style="left:1061px;"></div><div class="tl" style="left:1164.5px;">Dec</div><div class="tt" style="left:1164px;"></div><div class="tl" style="left:1247.5px;">25</div><div class="tt" style="left:1247px;"></div></div></div>
<div id="frame"></div>
<div class="lab" style="left:1194px;top:134px;width:54px;height:19px;background:#26a69a;color:#fff;"><span style="position:absolute;right:5px;top:1px;">BTCUSD</span></div>
<div class="lab" style="left:1249px;top:134px;width:61px;height:19px;background:#26a69a;color:#fff;"><i style="background:#fff;top:9px;"></i><span style="position:absolute;left:7.5px;top:1px;letter-spacing:-0.3px;">169.16%</span></div>
<div class="lab" style="left:1251px;top:154px;width:59px;height:19px;background:#26a69a;color:#fff;"><span style="position:absolute;left:3px;top:1px;">11:19:06</span></div>
<div class="lab" style="left:1206px;top:548px;width:42px;height:19px;background:#fbc02d;color:#131722;"><span style="position:absolute;right:5px;top:1px;">GOLD</span></div>
<div class="lab" style="left:1249px;top:548px;width:54px;height:19px;background:#fbc02d;color:#131722;"><i style="background:#131722;top:9px;"></i><span style="position:absolute;left:8.5px;top:1px;letter-spacing:-0.3px;">20.77%</span></div>
<div class="lab" style="left:1216px;top:572px;width:32px;height:19px;background:#ff6d00;color:#fff;"><span style="position:absolute;right:5px;top:1px;">SPX</span></div>
<div class="lab" style="left:1249px;top:572px;width:54px;height:19px;background:#ff6d00;color:#fff;"><i style="background:#fff;top:9px;"></i><span style="position:absolute;left:7.5px;top:1px;letter-spacing:-0.3px;">11.96%</span></div>
<div class="lab" style="left:1218px;top:615px;width:30px;height:19px;background:#26c6da;color:#131722;"><span style="position:absolute;right:5px;top:1px;">SMI</span></div>
<div class="lab" style="left:1249px;top:615px;width:54px;height:19px;background:#26c6da;color:#131722;"><i style="background:#131722;top:9px;"></i><span style="position:absolute;left:8.5px;top:1px;letter-spacing:-0.3px;">&minus;3.35%</span></div>
<svg style="position:absolute;left:0;top:836px;" width="40" height="30" viewBox="0 836 40 30">
<g fill="#2196f3"><circle cx="17.2" cy="852.3" r="6.2"/><circle cx="10.7" cy="856.2" r="4.6"/><circle cx="26.9" cy="855.6" r="5.2"/><rect x="10.7" y="852" width="16.2" height="8.8"/></g>
<polyline points="6.8,858.8 15.8,851.7 22.1,857.3 27.9,851.3" fill="none" stroke="#fff" stroke-width="1" stroke-linejoin="round"/>
<circle cx="15.8" cy="851.7" r="1.9" fill="#fff"/><circle cx="22.1" cy="857.3" r="1.9" fill="#fff"/>
</svg>
<div class="t" style="left:34px;top:846px;font-size:14px;">TradingView</div>

<div class="t b" style="left:15px;top:52px;letter-spacing:0.13px;">Bitcoin / U.S. Dollar, 1D, BITSTAMP</div>
<div class="t" style="left:15px;top:69px;">Vol</div>
<div class="t" style="left:15px;top:86px;">SPX, TVC</div>
<div class="t" style="left:15px;top:103px;">SMI, SIX</div>
<div class="t" style="left:15px;top:120px;letter-spacing:0.2px;">GOLD, TVC</div>
</body></html>
